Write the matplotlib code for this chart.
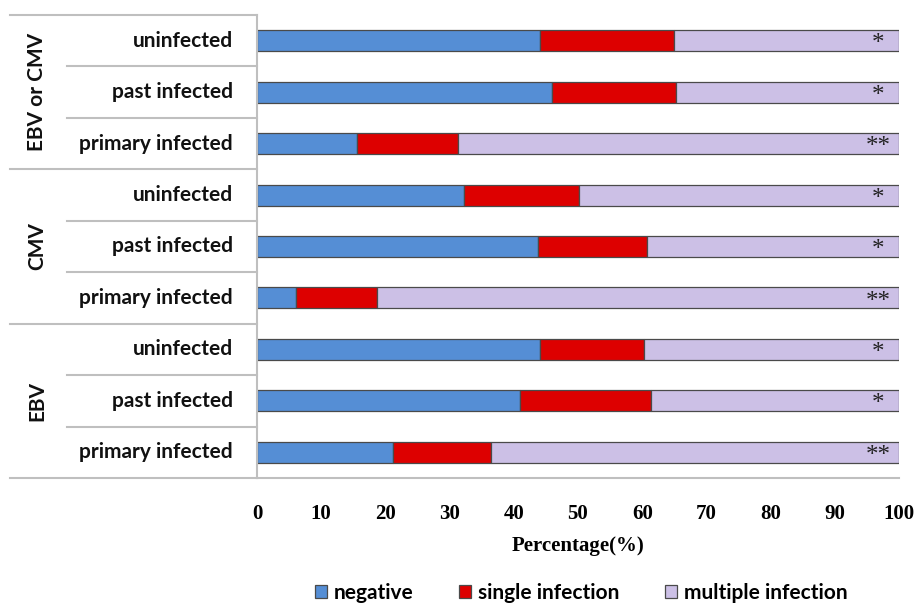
import matplotlib
matplotlib.use('Agg')

import matplotlib.pyplot as plt
import matplotlib.transforms as mtransforms
import numpy as np

# rows listed top to bottom
groups = ['EBV or CMV', 'CMV', 'EBV']
statuses = ['uninfected', 'past infected', 'primary infected']
categories = [s for g in groups for s in statuses]

negative = [44.1, 45.9, 15.5, 32.2, 43.7, 6.1, 44.1, 40.9, 21.2]
single = [20.8, 19.3, 15.8, 17.9, 17.0, 12.6, 16.2, 20.5, 15.2]
multiple = [35.1, 34.8, 68.7, 49.9, 39.3, 81.3, 39.7, 38.6, 63.6]
stars = ['*', '*', '**', '*', '*', '**', '*', '*', '**']

series_names = ['negative', 'single infection', 'multiple infection']
colors = ['#558ED5', '#DD0000', '#CCC0E6']
grid_col = '#BFBFBF'
label_font = ['Lato', 'DejaVu Sans']
serif_font = ['Liberation Serif', 'DejaVu Serif']

fig = plt.figure(figsize=(9.21, 6.04), dpi=100)
ax = fig.add_axes([257 / 921, 1 - 478 / 604, 642 / 921, 463 / 604])

n = len(categories)
y = np.arange(n)[::-1]
left = np.zeros(n)
for vals, name, col in zip([negative, single, multiple], series_names, colors):
    ax.barh(y, vals, left=left, height=0.41, color=col, edgecolor='#4a4a4a',
            linewidth=0.9, label=name)
    left = left + np.array(vals)

# significance marks, nudged down a little because the glyph sits high
for yi, s in zip(y, stars):
    ax.text(96.7, yi - 0.07, s, ha='center', va='center', fontsize=18,
            family=serif_font, color='#222222')

ax.set_xlim(0, 100)
ax.set_ylim(-0.5, n - 0.5)
ax.set_xticks(np.arange(0, 101, 10))
ax.set_xticklabels([str(v) for v in range(0, 101, 10)], family=serif_font,
                   fontweight='bold', fontsize=15)
ax.tick_params(axis='x', length=0, pad=19)
ax.set_yticks([])
ax.set_xlabel('Percentage(%)', family=serif_font, fontweight='bold',
              fontsize=15, labelpad=8)
for side in ['top', 'right']:
    ax.spines[side].set_visible(False)
for side in ['left', 'bottom']:
    ax.spines[side].set_color(grid_col)
    ax.spines[side].set_linewidth(1.5)

# table-like labels on the left
trans = mtransforms.blended_transform_factory(fig.transFigure, ax.transData)
x_axis = 257 / 921
for k in range(len(groups) + 1):
    yl = n - 0.5 - 3 * k
    ax.plot([10 / 921, x_axis], [yl, yl], color=grid_col, lw=1.5,
            transform=trans, clip_on=False)
for k in range(n):
    if k % 3 != 0:
        yl = n - 0.5 - k
        ax.plot([67 / 921, x_axis], [yl, yl], color=grid_col, lw=1.5,
                transform=trans, clip_on=False)

for yi, cat in zip(y, categories):
    ax.text(233 / 921, yi, cat, transform=trans, ha='right', va='center',
            fontsize=15, fontweight='bold', family=label_font, color='#111111')

for gi, g in enumerate(groups):
    yc = n - 2 - 3 * gi
    ax.text(37 / 921, yc, g, transform=trans, ha='center', va='center',
            rotation=90, fontsize=15, fontweight='bold', family=label_font,
            color='#111111')

fig.legend(loc='center', bbox_to_anchor=(581 / 921, 1 - 593 / 604), ncol=3,
           frameon=False, handlelength=0.6, handleheight=0.6,
           handletextpad=0.3, columnspacing=2.2,
           prop={'family': label_font, 'weight': 'bold', 'size': 15})

fig.savefig('out.png', dpi=100)
